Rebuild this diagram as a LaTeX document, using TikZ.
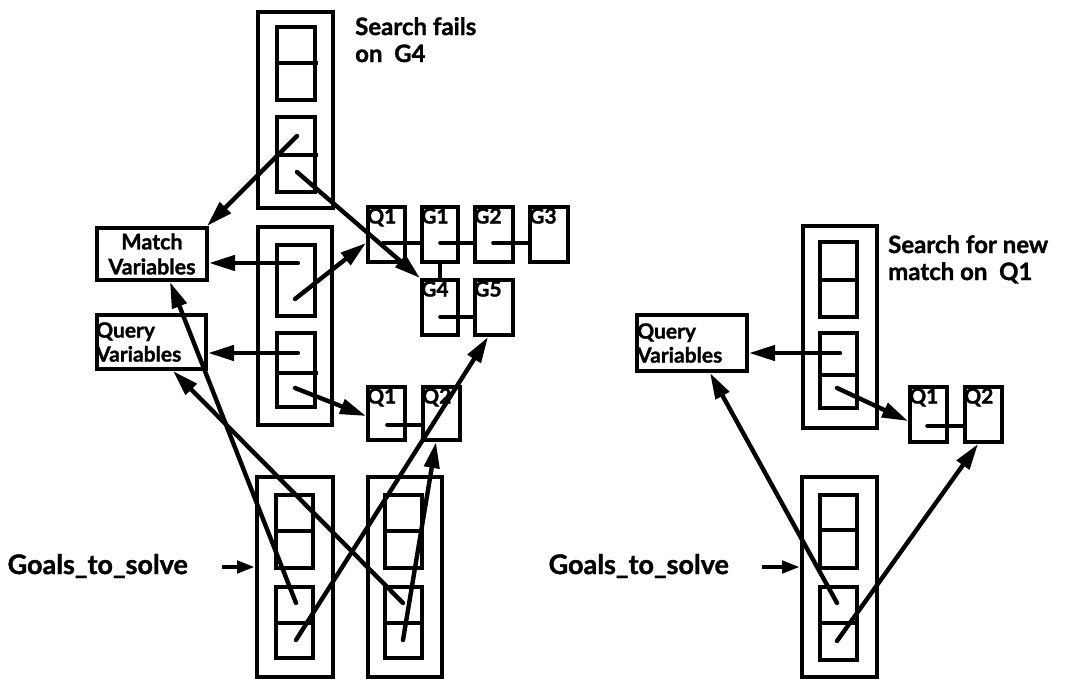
\documentclass[tikz,border=0pt]{standalone}
\usepackage{fontspec}
\setmainfont{Lato}[BoldFeatures={FakeBold=1.3}]
\usetikzlibrary{arrows.meta,fit,calc}
\begin{document}
\begin{tikzpicture}[x=1pt,y=-1pt,
  frame/.style={draw, line width=4pt, inner sep=0pt},
  ln/.style={line width=4pt},
  conn/.style={line width=3.6pt, line cap=round},
  arr/.style={line width=4.4pt, line cap=round, -{Triangle[length=26pt,width=15pt]}},
  sarr/.style={line width=4.4pt, -{Triangle[length=18pt,width=12pt]}},
  txt/.style={font=\bfseries\fontsize{24}{27}\selectfont, align=left, inner sep=0pt},
  gtxt/.style={font=\bfseries\fontsize{27}{30}\selectfont, inner sep=0pt},
  vtxt/.style={font=\bfseries\fontsize{21.5}{25}\selectfont, inner sep=0pt},
  qvtxt/.style={font=\bfseries\fontsize{21}{24}\selectfont, inner sep=0pt},
  qtxt/.style={font=\bfseries\fontsize{21}{22}\selectfont, inner sep=0pt, anchor=north west}
]
\useasboundingbox (0,0) rectangle (1078,679);

% ---------- top-left stack ----------
\node[frame, fit={(258,12)(333,208)}] (s1) {};
\node[frame, fit={(277,27)(315,100)}] (s1a) {};
\node[frame, fit={(277,117)(315,192)}] (s1b) {};
\draw[ln] (277,63) -- (318,63);
\draw[ln] (277,155) -- (318,155);
\node[txt, anchor=north west] (t1) at (355,17) {Search fails\\on\ \ G4};

% ---------- middle stack ----------
\node[frame, fit={(258,227)(332,425)}] (s2) {};
\node[frame, fit={(277,245)(315,316)}] (s2a) {};
\node[frame, fit={(277,333)(315,407)}] (s2b) {};
\draw[ln] (277,373) -- (318,373);

% ---------- variable boxes (left) ----------
\node[frame, fit={(97,228)(207,280)}] (mv) {};
\node[vtxt, align=center] (mvt) at (mv.center) {Match\\Variables};
\node[frame, fit={(97,315)(206,369)}] (qv) {};
\node[qvtxt, align=left, anchor=west] (qvt) at ($(qv.west)+(1,0)$) {Query\\Variables};

% ---------- goal list (top) ----------
\node[frame, fit={(368,207)(405,262)}] (q1t) {};
\node[frame, fit={(422,207)(458,262)}] (g1) {};
\node[frame, fit={(475,207)(513,262)}] (g2) {};
\node[frame, fit={(530,207)(568,262)}] (g3) {};
\node[frame, fit={(422,280)(458,335)}] (g4) {};
\node[frame, fit={(475,280)(513,335)}] (g5) {};
\node[qtxt] (lq1t) at ($(q1t.north west)+(1,3)$) {Q1};
\node[qtxt] (lg1) at ($(g1.north west)+(1,3)$) {G1};
\node[qtxt] (lg2) at ($(g2.north west)+(1,3)$) {G2};
\node[qtxt] (lg3) at ($(g3.north west)+(1,3)$) {G3};
\node[qtxt] (lg4) at ($(g4.north west)+(1,3)$) {G4};
\node[qtxt] (lg5) at ($(g5.north west)+(1,3)$) {G5};
\coordinate (q1tc) at (383,243);
\coordinate (g1c) at (440,243);
\coordinate (g2c) at (493,243);
\coordinate (g4c) at (440,317);
\draw[conn] (q1tc) -- (q1tc -| g1.west);
\draw[conn] (g1c) -- (g1c -| g2.west);
\draw[conn] (g2c) -- (g2c -| g3.west);
\draw[conn] (g1.south) -- (g4.north);
\draw[conn] (g4c) -- (g4c -| g5.west);

% ---------- query list (left) ----------
\node[frame, fit={(368,387)(405,440)}] (q1b) {};
\node[frame, fit={(423,387)(460,440)}] (q2b) {};
\node[qtxt] (lq1b) at ($(q1b.north west)+(1,3)$) {Q1};
\node[qtxt] (lq2b) at ($(q2b.north west)+(1,3)$) {Q2};
\coordinate (q1bc) at (387,425);
\draw[conn] (q1bc) -- (q1bc -| q2b.west);

% ---------- bottom stacks (left) ----------
\node[frame, fit={(257,477)(333,677)}] (sa) {};
\node[frame, fit={(276,495)(313,568)}] (saa) {};
\node[frame, fit={(276,587)(313,658)}] (sab) {};
\draw[ln] (276,531) -- (314,531);
\draw[ln] (276,623) -- (314,623);
\node[frame, fit={(368,477)(442,677)}] (sb) {};
\node[frame, fit={(385,495)(422,568)}] (sba) {};
\node[frame, fit={(385,587)(422,658)}] (sbb) {};
\draw[ln] (385,531) -- (423,531);
\draw[ln] (385,623) -- (423,623);
\node[gtxt, anchor=east] (goals1) at (188,566) {Goals\_to\_solve};
\coordinate (ga1) at (222,567);
\draw[sarr] (ga1) -- (ga1 -| sa.west);

% ---------- arrows (left) ----------
\coordinate (p1) at (297,136);
\coordinate (p2) at (297,172);
\coordinate (p3) at (298,263);
\coordinate (p4) at (295,299);
\coordinate (p5) at (298,353);
\coordinate (p6) at (295,388);
\coordinate (p7) at (296,603);
\coordinate (p8) at (296,640);
\coordinate (p9) at (403,603);
\coordinate (p10) at (403,640);
\draw[arr] (p1) -- ($(mv.north east)+(-2,0)$);
\draw[arr] (p2) -- (g4.north west);
\draw[arr] (p3) -- (p3 -| mv.east);
\draw[arr] (p4) -- ($(q1t.north west)+(0,38)$);
\draw[arr] (p5) -- (p5 -| qv.east);
\draw[arr] (p6) -- ($(q1b.north west)+(0,31)$);
\draw[arr] (p7) -- ($(mv.south west)+(75,0)$);
\draw[arr] (p8) -- ($(g5.south west)+(15,0)$);
\draw[arr] (p9) -- ($(qv.south west)+(78,0)$);
\draw[arr] (p10) -- ($(q2b.south west)+(15,0)$);

% ---------- right side ----------
\node[frame, fit={(803,226)(877,428)}] (s3) {};
\node[frame, fit={(820,242)(857,317)}] (s3a) {};
\node[frame, fit={(820,333)(857,408)}] (s3b) {};
\draw[ln] (820,280) -- (858,280);
\draw[ln] (820,375) -- (858,375);
\node[txt, anchor=north west] (t2) at (888,235) {Search for new\\match on\ \ Q1};
\node[frame, fit={(637,315)(747,371)}] (qvr) {};
\node[qvtxt, align=left, anchor=west] (qvrt) at ($(qvr.west)+(2,0)$) {Query\\Variables};
\node[frame, fit={(910,387)(947,442)}] (q1r) {};
\node[frame, fit={(965,387)(1002,442)}] (q2r) {};
\node[qtxt] (lq1r) at ($(q1r.north west)+(1,3)$) {Q1};
\node[qtxt] (lq2r) at ($(q2r.north west)+(1,3)$) {Q2};
\coordinate (q1rc) at (927,426);
\draw[conn] (q1rc) -- (q1rc -| q2r.west);

\node[frame, fit={(802,477)(877,677)}] (s4) {};
\node[frame, fit={(820,495)(857,568)}] (s4a) {};
\node[frame, fit={(820,587)(857,660)}] (s4b) {};
\draw[ln] (820,530) -- (858,530);
\draw[ln] (820,623) -- (858,623);
\node[gtxt, anchor=east] (goals2) at (729,566) {Goals\_to\_solve};
\coordinate (ga2) at (762,567);
\draw[sarr] (ga2) -- (ga2 -| s4.west);

\coordinate (p11) at (840,353);
\coordinate (p12) at (837,388);
\coordinate (p13) at (837,603);
\coordinate (p14) at (837,641);
\draw[arr] (p11) -- (p11 -| qvr.east);
\draw[arr] (p12) -- ($(q1r.north west)+(0,36)$);
\draw[arr] (p13) -- ($(qvr.south west)+(75,0)$);
\draw[arr] (p14) -- ($(q2r.south west)+(15,0)$);
\end{tikzpicture}
\end{document}
